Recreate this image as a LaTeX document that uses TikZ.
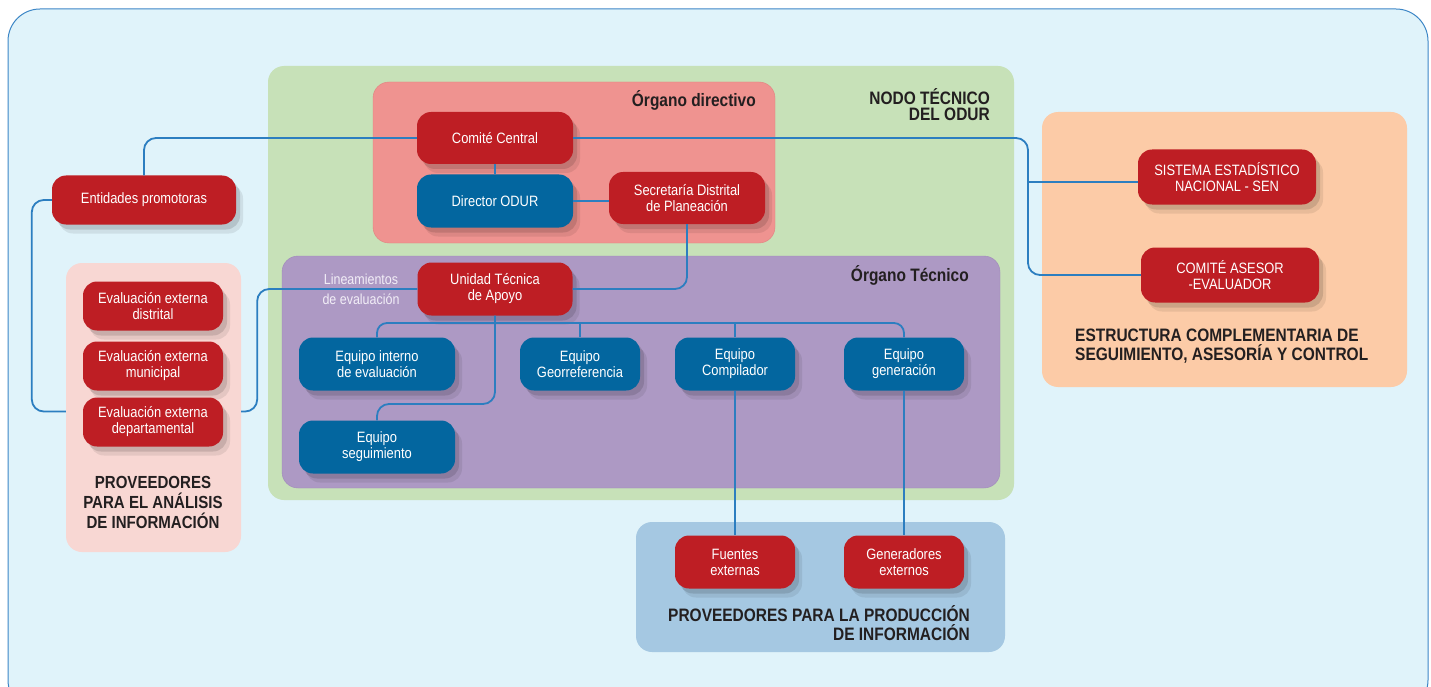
\documentclass[tikz,border=0pt]{standalone}
\usepackage{fontspec}
\setmainfont{Liberation Sans}[FakeStretch=0.86]
\usetikzlibrary{calc, shadows}

\definecolor{fondo}{HTML}{E0F3FA}
\definecolor{marco}{HTML}{3C86C6}
\definecolor{verde}{HTML}{C7E1B8}
\definecolor{salmon}{HTML}{EF9390}
\definecolor{salmonborde}{HTML}{E2817F}
\definecolor{lila}{HTML}{AD99C4}
\definecolor{lilaborde}{HTML}{9F89BA}
\definecolor{naranja}{HTML}{FCCBA7}
\definecolor{rosa}{HTML}{F8D7D3}
\definecolor{celeste}{HTML}{A5C8E2}
\definecolor{rojo}{HTML}{BE1E24}
\definecolor{azulnodo}{HTML}{03669F}
\definecolor{linea}{HTML}{2C7EC0}
\definecolor{tinta}{HTML}{231F20}
\definecolor{palido}{HTML}{F2EEF7}

\begin{document}
\begin{tikzpicture}[x=1pt, y=-1pt,
    caja/.style={rounded corners=14pt, text=white, align=center, inner sep=0pt,
      font=\fontsize{15}{16}\selectfont,
      drop shadow={shadow xshift=7pt, shadow yshift=-9pt, opacity=0.08, fill=black},
      drop shadow={shadow xshift=4pt, shadow yshift=-5pt, opacity=0.12, fill=black}},
    roja/.style={caja, fill=rojo},
    azul/.style={caja, fill=azulnodo},
    dim/.style 2 args={minimum width=#1, minimum height=#2},
    panel/.style={rounded corners=16pt, inner sep=0pt},
    titulo/.style={font=\bfseries\fontsize{18}{19}\selectfont, text=tinta, inner sep=0pt},
    enlace/.style={draw=linea, line width=1.8pt, rounded corners=12pt}]
  \useasboundingbox (0,0) rectangle (1431,687);
  \draw[draw=marco, fill=fondo, line width=1pt, rounded corners=32pt] (8,9) rectangle (1428,712);

  % the big coloured areas
  \node[panel, fill=verde, dim={746}{434}] (nodo) at (641,283) {};
  \node[panel, fill=salmon, draw=salmonborde, dim={402}{161}] (direc) at (574,162.5) {};
  \node[panel, fill=lila, draw=lilaborde, dim={718}{232}] (tecn) at (641,372) {};
  \node[panel, fill=naranja, dim={365}{275}] (compl) at (1224.5,249.5) {};
  \node[panel, fill=rosa, dim={175}{289}] (anal) at (153.5,407.5) {};
  \node[panel, fill=celeste, dim={369}{130}] (prod) at (820.5,587) {};

  % titles
  \node[titulo, anchor=north east, align=right, font=\bfseries\fontsize{18}{16.5}\selectfont] (tnodo) at (990,88) {NODO TÉCNICO\\DEL ODUR};
  \node[titulo, anchor=east] (tdir) at (756,100) {Órgano directivo};
  \node[titulo, anchor=east] (ttec) at (969,275) {Órgano Técnico};
  \node[titulo, anchor=west, align=left] (tcompl) at (1075,346) {ESTRUCTURA COMPLEMENTARIA DE\\SEGUIMIENTO, ASESORÍA Y CONTROL};
  \node[titulo, align=center, font=\bfseries\fontsize{17.5}{20}\selectfont] (tanal) at (153,502) {PROVEEDORES\\PARA EL ANÁLISIS\\DE INFORMACIÓN};
  \node[titulo, anchor=east, align=right] (tprod) at (970,623) {PROVEEDORES PARA LA PRODUCCIÓN\\DE INFORMACIÓN};
  \node[text=palido, align=center, inner sep=0pt, font=\fontsize{14.5}{20}\selectfont] (lin) at (361,289) {Lineamientos\\de evaluación};

  % organo directivo
  \node[roja, dim={156}{52}] (cc) at (495,138) {Comité Central};
  \node[azul, dim={156}{53}] (dir) at (495,201) {Director ODUR};
  \node[roja, dim={156}{52}] (sdp) at (687,198) {Secretaría Distrital\\de Planeación};
  \node[roja, dim={184}{49}] (ent) at (144,200) {Entidades promotoras};

  % organo tecnico
  \node[roja, dim={155}{53}] (uta) at (495,289) {Unidad Técnica\\de Apoyo};
  \node[azul, dim={156}{53}] (ein) at (377,364) {Equipo interno\\de evaluación};
  \node[azul, dim={156}{53}] (eseg) at (377,447) {Equipo\\seguimiento};
  \node[azul, dim={120}{53}] (egr) at (580,364) {Equipo\\Georreferencia};
  \node[azul, dim={120}{53}] (ecp) at (735,364) {Equipo\\Compilador};
  \node[azul, dim={120}{53}] (egn) at (904,364) {Equipo\\generación};

  % proveedores
  \node[roja, dim={140}{49}] (ev1) at (153,306) {Evaluación externa\\distrital};
  \node[roja, dim={140}{49}] (ev2) at (153,366) {Evaluación externa\\municipal};
  \node[roja, dim={140}{49}] (ev3) at (153,422) {Evaluación externa\\departamental};
  \node[roja, dim={120}{53}] (fex) at (735,562) {Fuentes\\externas};
  \node[roja, dim={120}{53}] (gex) at (904,562) {Generadores\\externos};

  % estructura complementaria
  \node[roja, dim={178}{55}] (sen) at (1227,177) {SISTEMA ESTADÍSTICO\\NACIONAL - SEN};
  \node[roja, dim={178}{55}] (ase) at (1230,275) {COMITÉ ASESOR\\-EVALUADOR};

  % connectors
  \coordinate (bajada) at (1028,0);
  \coordinate (reparto) at (0,323);
  \coordinate (giro) at (0,404);
  \draw[enlace] (cc.west) -| (ent.north);
  \draw[enlace] (cc.east) -| (bajada |- ase.west) -- (ase.west);
  \draw[enlace] ($(bajada |- sen.west)+(0,5)$) -- ($(sen.west)+(0,5)$);
  \draw[enlace] (cc.south) -- (dir.north);
  \draw[enlace] (dir.east) -- (dir.east -| sdp.west);
  \draw[enlace] (sdp.south) |- (uta.east);
  \draw[enlace] (uta.west) -| ($(anal.east)+(16,4)$) -- ($(anal.east)+(0,4)$);
  \draw[enlace] (ent.west) -- ++(-20,0) |- ($(anal.west)+(0,4)$);
  % the equipos
  \draw[enlace, rounded corners=10pt] (ein.north) |- (reparto -| egn.north) -- (egn.north);
  \draw[enlace] (egr.north) -- (egr.north |- reparto);
  \draw[enlace] (ecp.north) -- (ecp.north |- reparto);
  \draw[enlace] (uta.south) |- (eseg.north |- giro) -- (eseg.north);
  \draw[enlace] (ecp.south) -- (fex.north);
  \draw[enlace] (egn.south) -- (gex.north);
\end{tikzpicture}
\end{document}
